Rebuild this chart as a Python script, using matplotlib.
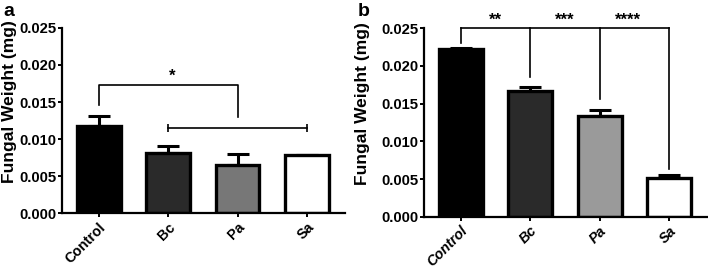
import numpy as np
import matplotlib
matplotlib.use('Agg')
import matplotlib.pyplot as plt

plt.rcParams['font.family'] = ['Liberation Sans', 'DejaVu Sans']
plt.rcParams['font.weight'] = 'bold'

groups = ['Control', 'Bc', 'Pa', 'Sa']

weight_a = [0.0118, 0.00815, 0.0065, 0.0078]
err_a = [0.00135, 0.00085, 0.0015, 0.0001]

weight_b = [0.0222, 0.01667, 0.0134, 0.0052]
err_b = [0.0002, 0.0006, 0.0007, 0.0004]

colors_a = ['#000000', '#2a2a2a', '#777777', '#ffffff']
colors_b = ['#000000', '#2a2a2a', '#9a9a9a', '#ffffff']

fig = plt.figure(figsize=(7.08, 2.69), dpi=100)
ax1 = fig.add_axes([0.0876, 0.208, 0.399, 0.688])
ax2 = fig.add_axes([0.599, 0.194, 0.399, 0.701])


def draw(ax, vals, errs, cols, italic, label_x):
    x = np.arange(len(groups))
    ax.bar(x, vals, width=0.63, color=cols, edgecolor='black', linewidth=2.4, zorder=2)
    ax.errorbar(x, vals, yerr=[np.zeros(len(errs)), errs], fmt='none',
                ecolor='black', elinewidth=2.2, capsize=8, capthick=2.2, zorder=1)
    ax.set_xlim(-0.53, 3.54)
    ax.set_ylim(0, 0.025)
    ax.set_yticks([0, 0.005, 0.010, 0.015, 0.020, 0.025])
    ax.set_yticklabels(['0.000', '0.005', '0.010', '0.015', '0.020', '0.025'])
    ax.set_xticks(x)
    ax.set_xticklabels(groups, rotation=45, ha='right', rotation_mode='anchor',
                       style='italic' if italic else 'normal')
    for s in ['top', 'right']:
        ax.spines[s].set_visible(False)
    for s in ['left', 'bottom']:
        ax.spines[s].set_linewidth(1.6)
    ax.tick_params(axis='y', width=1.4, length=3, pad=1, labelsize=10.7)
    ax.tick_params(axis='x', width=1.4, length=3, pad=2, labelsize=10.3)
    ax.set_ylabel('Fungal Weight (mg)', fontsize=12.5, fontweight='bold')
    ax.yaxis.set_label_coords(label_x, 0.6)


draw(ax1, weight_a, err_a, colors_a, False, -0.16)
draw(ax2, weight_b, err_b, colors_b, True, -0.19)

# panel a annotations
ax1.plot([0, 0, 2, 2], [0.0146, 0.0173, 0.0173, 0.0130], color='black', lw=1.2, clip_on=False)
ax1.text(1.05, 0.0174, '*', ha='center', va='bottom', fontsize=12)
ax1.plot([1, 3], [0.0115, 0.0115], color='black', lw=1.2, marker='|', markersize=6, mew=1.2)

# panel b annotations
top = 0.025
ax2.plot([0, 0], [0.0230, top], color='black', lw=1.2, clip_on=False)
ax2.plot([0, 3], [top, top], color='black', lw=1.2, clip_on=False)
ax2.plot([1, 1], [0.01857, top], color='black', lw=1.2, clip_on=False)
ax2.plot([2, 2], [0.0156, top], color='black', lw=1.2, clip_on=False)
ax2.plot([3, 3], [0.0064, top], color='black', lw=1.2, clip_on=False)
for xm, lab in [(0.5, '**'), (1.5, '***'), (2.4, '****')]:
    ax2.text(xm, top + 0.0001, lab, ha='center', va='bottom', fontsize=12)

fig.text(0.005, 0.99, 'a', fontsize=14, fontweight='bold', va='top')
fig.text(0.505, 0.99, 'b', fontsize=14, fontweight='bold', va='top')

fig.savefig('out.png', dpi=100)
